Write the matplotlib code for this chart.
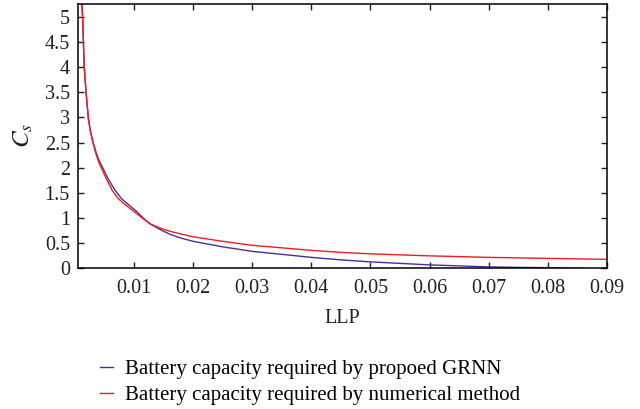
import matplotlib
matplotlib.use("Agg")
import matplotlib.pyplot as plt

plt.rcParams["font.family"] = ["Liberation Serif", "DejaVu Serif"]
plt.rcParams["mathtext.fontset"] = "stix"

# LLP vs storage capacity, numerical method
llp_num = [0.0011, 0.00115, 0.00132, 0.00145, 0.00159, 0.0019, 0.00227, 0.00257,
           0.00306, 0.0035, 0.0040, 0.00445, 0.0054, 0.0063, 0.0072, 0.0082,
           0.0093, 0.0110, 0.0127, 0.0145, 0.0161, 0.0178, 0.020, 0.025, 0.030,
           0.035, 0.040, 0.045, 0.050, 0.055, 0.060, 0.065, 0.070, 0.075, 0.080,
           0.085, 0.090]
cs_num = [5.45, 5.3, 5.0, 4.5, 4.0, 3.5, 3.0, 2.75, 2.5, 2.3, 2.12, 2.0, 1.76,
          1.55, 1.40, 1.29, 1.19, 1.03, 0.88, 0.79, 0.73, 0.68, 0.62, 0.53, 0.45,
          0.40, 0.35, 0.31, 0.28, 0.26, 0.24, 0.225, 0.21, 0.20, 0.19, 0.18, 0.17]

# LLP vs storage capacity, GRNN estimate
llp_grnn = [0.0011, 0.00115, 0.00132, 0.00145, 0.00159, 0.0019, 0.00227, 0.0026,
            0.0031, 0.0036, 0.0041, 0.0047, 0.0057, 0.0068, 0.0079, 0.0093,
            0.0105, 0.0117, 0.0127, 0.0145, 0.0161, 0.0178, 0.020, 0.025, 0.030,
            0.035, 0.040, 0.045, 0.050, 0.055, 0.060, 0.065, 0.070, 0.075, 0.080,
            0.086]
cs_grnn = [5.45, 5.3, 5.0, 4.5, 4.0, 3.5, 3.0, 2.75, 2.5, 2.3, 2.14, 2.0, 1.76,
           1.55, 1.38, 1.24, 1.12, 0.98, 0.88, 0.76, 0.67, 0.60, 0.53, 0.42, 0.33,
           0.27, 0.21, 0.16, 0.12, 0.09, 0.06, 0.04, 0.02, 0.01, 0.005, -0.01]

x_ticks = [0.01, 0.02, 0.03, 0.04, 0.05, 0.06, 0.07, 0.08, 0.09]
y_ticks = [0, 0.5, 1, 1.5, 2, 2.5, 3, 3.5, 4, 4.5, 5]

BLUE = "#4a2d9c"
RED = "#ee1c24"
INK = "#231f20"

fig = plt.figure(figsize=(6.4, 4.09), dpi=100)
ax = fig.add_axes([0.1223, 0.345, 0.8261, 0.646])

ax.plot(llp_grnn, cs_grnn, color=BLUE, lw=1.0,
        label="Battery capacity required by propoed GRNN")
ax.plot(llp_num, cs_num, color=RED, lw=1.0,
        label="Battery capacity required by numerical method")

ax.set_xlim(0.00058, 0.09)
ax.set_ylim(0, 5.27)
ax.set_xticks(x_ticks)
ax.set_xticklabels([f"{v:g}" for v in x_ticks])
ax.set_yticks(y_ticks)
ax.set_yticklabels([f"{v:g}" for v in y_ticks])
ax.tick_params(direction="in", top=True, right=True, length=4, width=1,
               labelsize=14.5, colors=INK)
ax.tick_params(axis="x", pad=8)
ax.tick_params(axis="y", pad=6)
for s in ax.spines.values():
    s.set_linewidth(1.1)

ax.set_xlabel("LLP", fontsize=14.5, color=INK, labelpad=8)
ax.set_ylabel(r"$C_s$", fontsize=18, color=INK, labelpad=7)

fig.legend(loc="upper left", bbox_to_anchor=(0.156, 0.121), frameon=False,
           fontsize=15, handlelength=0.63, handletextpad=0.6,
           labelspacing=0.3, borderaxespad=0, borderpad=0)

fig.savefig("out.png", dpi=100)
